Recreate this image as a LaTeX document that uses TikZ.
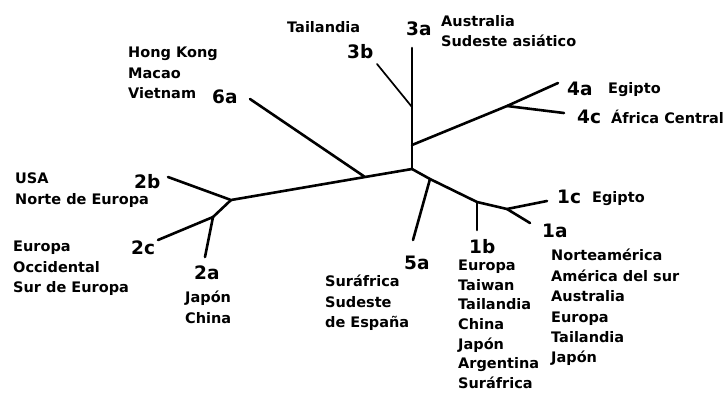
\documentclass[tikz,border=0pt]{standalone}
\usepackage{fontspec}
\setmainfont{DejaVu Sans}
\begin{document}
\begin{tikzpicture}[x=1bp,y=-1bp,
  branch/.style={line width=2.6bp,line cap=round,line join=round},
  thin branch/.style={line width=1.7bp,line cap=round},
  place/.style={inner sep=0pt,align=left,anchor=north west,
    font=\bfseries\fontsize{14.5bp}{20.4bp}\selectfont},
  tight place/.style={place,
    font=\bfseries\fontsize{14.5bp}{19.6bp}\selectfont},
  word/.style={inner sep=0pt,anchor=base west,
    font=\bfseries\fontsize{14.5bp}{20.4bp}\selectfont},
  clade/.style={inner sep=0pt,anchor=base west,
    font=\bfseries\fontsize{18.5bp}{20bp}\selectfont}]
\useasboundingbox[fill=white] (0,0) rectangle (726,392);

% tree junctions and tips
\coordinate (C)    at (412,169);
\coordinate (J3)   at (412,107);
\coordinate (T3a)  at (412,48);
\coordinate (T3b)  at (377,64);
\coordinate (J4b)  at (412,145);
\coordinate (J4)   at (507,106);
\coordinate (T4a)  at (558,83);
\coordinate (T4c)  at (564,113);
\coordinate (J6)   at (365,177);
\coordinate (T6a)  at (250,99);
\coordinate (J2)   at (231,200);
\coordinate (T2b)  at (168,177);
\coordinate (J2ac) at (213,217);
\coordinate (T2c)  at (158,240);
\coordinate (T2a)  at (205,257);
\coordinate (J5)   at (430,179);
\coordinate (T5a)  at (413,240);
\coordinate (J1b)  at (477,202);
\coordinate (T1b)  at (477,230);
\coordinate (J1)   at (507,209);
\coordinate (T1c)  at (547,201);
\coordinate (T1a)  at (530,223);

% branches
\draw[branch] (T3a) -- (C);
\draw[thin branch] (J3) -- (T3b);
\draw[branch] (J4b) -- (J4) -- (T4a);
\draw[branch] (J4) -- (T4c);
\draw[branch] (C) -- (J6) -- (J2) -- (T2b);
\draw[branch] (J6) -- (T6a);
\draw[branch] (J2) -- (J2ac) -- (T2c);
\draw[branch] (J2ac) -- (T2a);
\draw[branch] (C) -- (J5) -- (J1b) -- (J1) -- (T1c);
\draw[branch] (J5) -- (T5a);
\draw[branch] (J1b) -- (T1b);
\draw[branch] (J1) -- (T1a);

% clade names
\node[clade] (n3a) at (406,35)  {3a};
\node[clade] (n3b) at (347,58)  {3b};
\node[clade] (n4a) at (567,95)  {4a};
\node[clade] (n4c) at (577,123) {4c};
\node[clade] (n6a) at (212,103) {6a};
\node[clade] (n2b) at (134,188) {2b};
\node[clade] (n2c) at (131,254) {2c};
\node[clade] (n2a) at (194,279) {2a};
\node[clade] (n5a) at (404,269) {5a};
\node[clade] (n1b) at (469,253) {1b};
\node[clade] (n1c) at (557,203) {1c};
\node[clade] (n1a) at (542,237) {1a};

% regions
\node[word]  (r3b) at (287,32)  {Tailandia};
\node[place] (r3a) at (441,15)  {Australia\\Sudeste asiático};
\node[word]  (r4a) at (608,93)  {Egipto};
\node[word]  (r4c) at (611,123) {África Central};
\node[place] (r6a) at (128,47)  {Hong Kong\\Macao\\Vietnam};
\node[place] (r2b) at (15,173)  {USA\\Norte de Europa};
\node[place] (r2c) at (13,241)  {Europa\\Occidental\\Sur de Europa};
\node[place] (r2a) at (185,291) {Japón\\China};
\node[place] (r5a) at (325,275) {Suráfrica\\Sudeste\\de España};
\node[tight place] (r1b) at (458,260) {Europa\\Taiwan\\Tailandia\\China\\Japón\\Argentina\\Suráfrica};
\node[word]  (r1c) at (592,202) {Egipto};
\node[place] (r1a) at (551,249) {Norteamérica\\América del sur\\Australia\\Europa\\Tailandia\\Japón};
\end{tikzpicture}
\end{document}
